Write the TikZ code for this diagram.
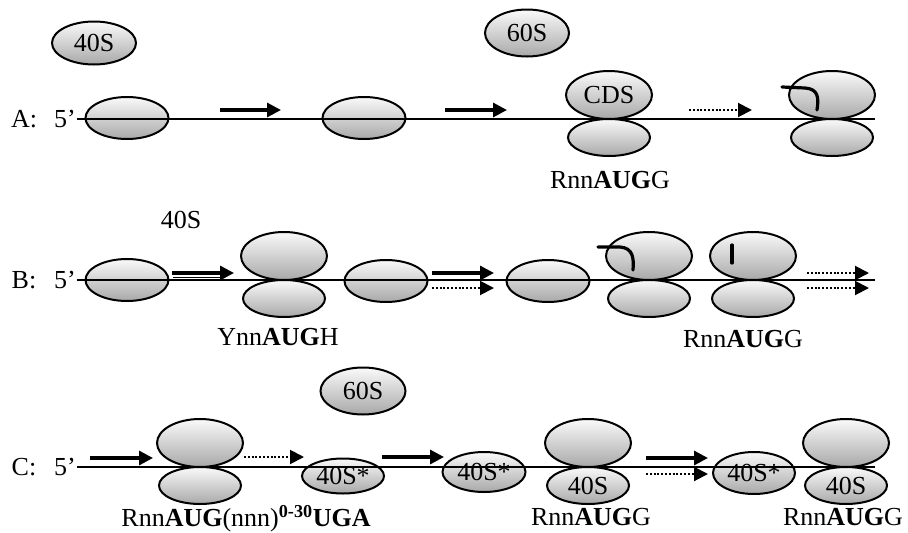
\documentclass[tikz,border=0pt]{standalone}
\usepackage{fontspec}
\setmainfont{Liberation Serif}
\usetikzlibrary{shapes.geometric,arrows.meta}

\def\rowA{119}
\def\rowB{280}
\def\rowC{467}
\def\mrnaEnd{875}

\tikzset{
	sub/.style={ellipse, draw, line width=2pt, inner sep=0pt, top color=black!2, bottom color=black!34, minimum width=83pt, minimum height=42pt},
	mrna/.style={line width=2pt},
	go/.style={line width=3.2pt, -{Triangle[length=14pt,width=14pt]}},
	scan/.style={line width=2pt, dash pattern=on 2pt off 1.8pt, -{Triangle[length=14pt,width=14pt]}},
	hook/.style={line width=3.2pt, line cap=round},
	lbl/.style={inner sep=0pt}
}

% ribosome sitting on the mRNA: name, x, y, text big subunit, text small subunit
\newcommand{\ribosome}[5]{
\begin{scope}[shift={(#2,#3)}]
	\node[sub, minimum width=86pt, minimum height=48pt] (#1big) at (0,-24) {#4};
	\node[sub, minimum width=82pt, minimum height=37pt] (#1small) at (0,18.5) {#5};
\end{scope}
}

\begin{document}
\begin{tikzpicture}[x=1pt, y=-1pt, every node/.style={font=\fontsize{26}{30}\selectfont}]
	\useasboundingbox (0,0) rectangle (908,533);

	%row A
	\node[lbl] (labA) at (24,\rowA) {A:};
	\node[lbl] (capA) at (65,\rowA) {5’};
	\node[sub, minimum width=84pt, minimum height=43pt] (freeA40) at (94,43) {40S};
	\node[sub, minimum width=84pt, minimum height=47pt] (freeA60) at (527,33) {60S};
	\node[sub] (scanA1) at (127,118) {};
	\node[sub] (scanA2) at (364,118) {};
	\ribosome{cdsA}{609}{\rowA}{CDS}{}
	\ribosome{elongA}{832}{\rowA}{}{}
	\draw[mrna] (capA.east) ++(1,0) coordinate (startA) -- (\mrnaEnd,\rowA);
	\draw[go] (220,110) -- (281,110);
	\draw[go] (445,110) -- (507,110);
	\draw[scan] (689,110) -- (752,110);
	\draw[hook] (782,87) -- (805,88) .. controls (818,89) and (819,97) .. (817,110);
	\node[lbl] (codonA) at (610,180) {Rnn\textbf{AUG}G};

	%row B
	\node[lbl] (labB) at (24,\rowB) {B:};
	\node[lbl] (capB) at (65,\rowB) {5’};
	\node[lbl] (freeB40) at (181,220) {40S};
	\node[sub] (scanB1) at (127,280) {};
	\ribosome{weakB}{284}{\rowB}{}{}
	\node[sub] (scanB2) at (386,281) {};
	\node[sub] (scanB3) at (548,281) {};
	\ribosome{elongB1}{649}{\rowB}{}{}
	\ribosome{elongB2}{753}{\rowB}{}{}
	\draw[mrna] (capB.east) ++(1,0) coordinate (startB) -- (\mrnaEnd,\rowB);
	\draw[line width=1pt] (173,277) -- (222,277);
	\draw[go] (172,273) -- (234,273);
	\draw[go] (432,273) -- (494,273);
	\draw[scan] (432,288) -- (494,288);
	\draw[scan] (807,273) -- (869,273);
	\draw[scan] (807,288) -- (869,288);
	\draw[hook] (598,247) -- (620,247) .. controls (633,248) and (634,258) .. (633,270);
	\draw[hook] (732,245) -- (732,263);
	\node[lbl] (codonB1) at (278,337) {Ynn\textbf{AUG}H};
	\node[lbl] (codonB2) at (743,339) {Rnn\textbf{AUG}G};

	%row C
	\node[lbl] (labC) at (24,\rowC) {C:};
	\node[lbl] (capC) at (65,\rowC) {5’};
	\node[sub, minimum width=85pt, minimum height=47pt] (freeC60) at (363,391) {60S};
	\ribosome{uorfC}{200}{\rowC}{}{}
	\node[sub, minimum width=82pt, minimum height=35pt] (starC1) at (343,476) {40S*};
	\node[sub, minimum width=83pt, minimum height=40pt] (starC2) at (484,472) {40S*};
	\ribosome{reinitC1}{588}{\rowC}{}{40S}
	\node[sub, minimum width=82pt, minimum height=42pt] (starC3) at (754,473) {40S*};
	\ribosome{reinitC2}{846}{\rowC}{}{40S}
	\draw[mrna] (capC.east) ++(1,0) coordinate (startC) -- (\mrnaEnd,\rowC);
	\draw[go] (90,458) -- (153,458);
	\draw[scan] (244,457) -- (304,457);
	\draw[go] (382,457) -- (444,457);
	\draw[go] (646,458) -- (708,458);
	\draw[scan] (646,474) -- (708,474);
	\node[lbl] (codonC1) at (246,519) {Rnn\textbf{AUG}(nnn)\textsuperscript{\textbf{0-30}}\textbf{UGA}};
	\node[lbl] (codonC2) at (591,517) {Rnn\textbf{AUG}G};
	\node[lbl] (codonC3) at (843,517) {Rnn\textbf{AUG}G};

\end{tikzpicture}
\end{document}
